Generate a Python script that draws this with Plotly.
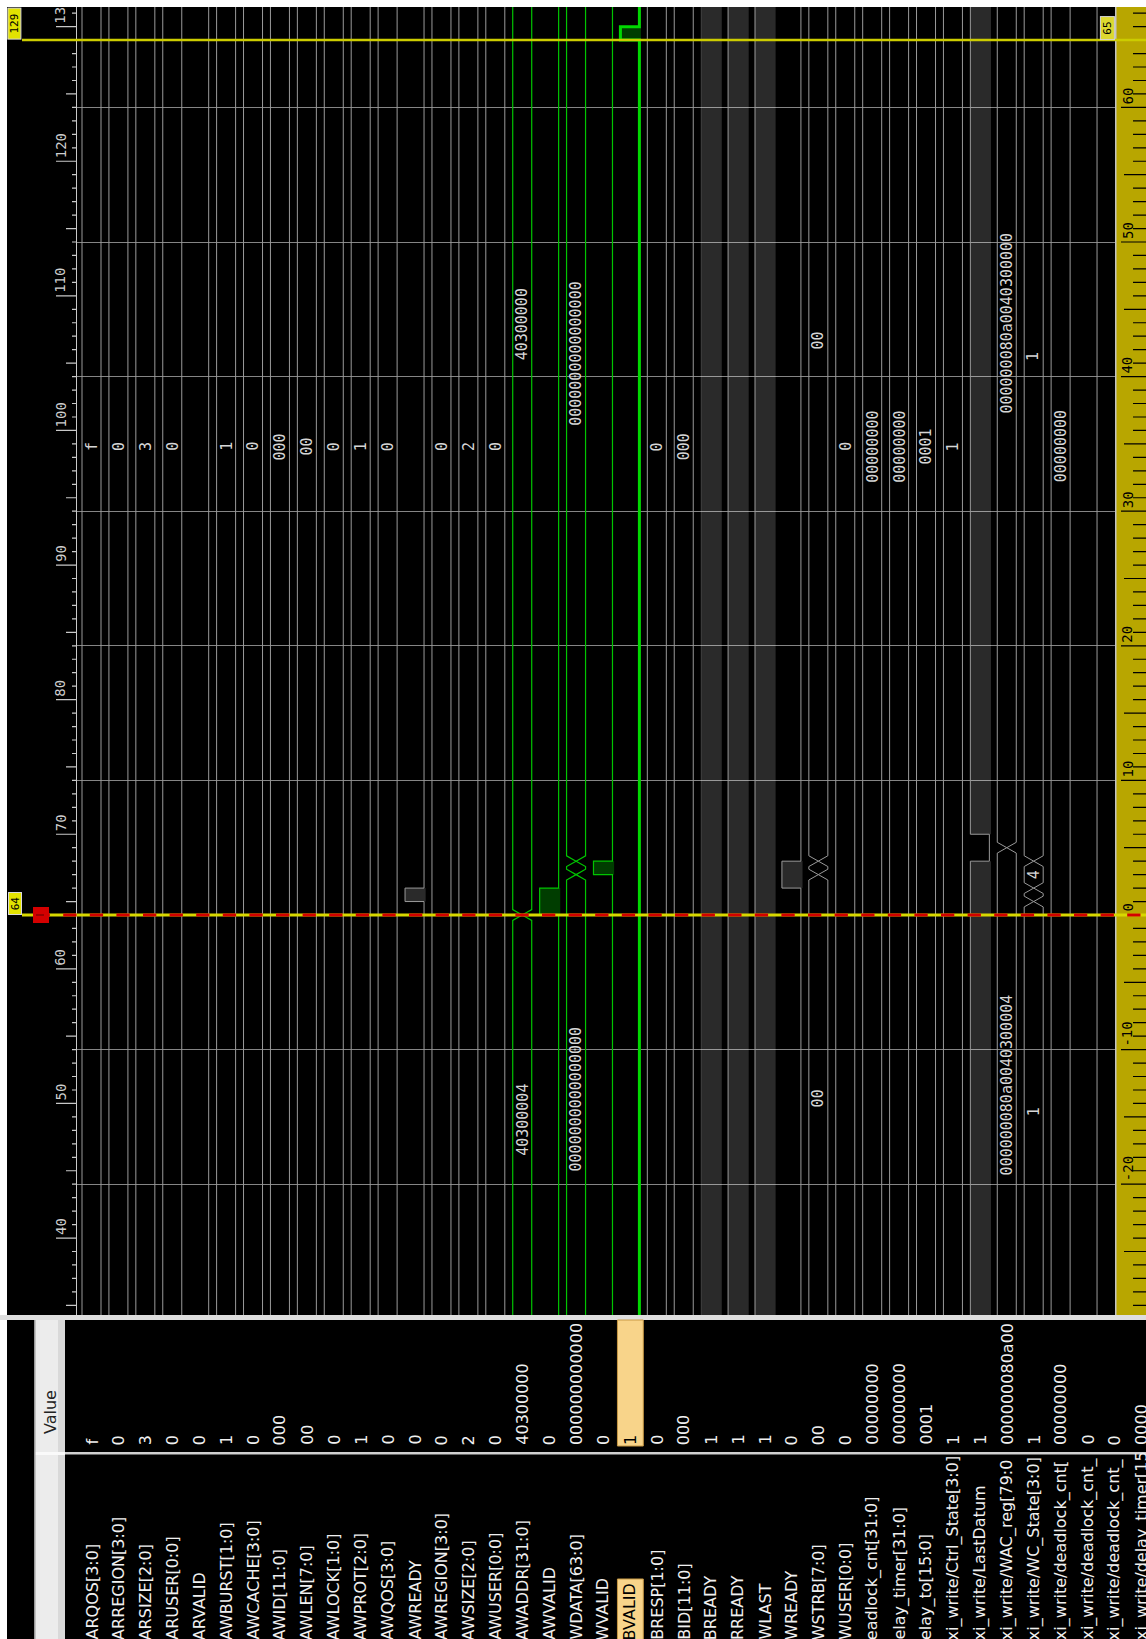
import plotly.graph_objects as go

# ------------------------------------------------------------------ data
signal_names = [
    "ARQOS[3:0]", "ARREGION[3:0]", "ARSIZE[2:0]", "ARUSER[0:0]", "ARVALID",
    "AWBURST[1:0]", "AWCACHE[3:0]", "AWID[11:0]", "AWLEN[7:0]", "AWLOCK[1:0]",
    "AWPROT[2:0]", "AWQOS[3:0]", "AWREADY", "AWREGION[3:0]", "AWSIZE[2:0]",
    "AWUSER[0:0]", "AWADDR[31:0]", "AWVALID", "WDATA[63:0]", "WVALID",
    "BVALID", "BRESP[1:0]", "BID[11:0]", "BREADY", "RREADY",
    "WLAST", "WREADY", "WSTRB[7:0]", "WUSER[0:0]", "eadlock_cnt[31:0]",
    "elay_timer[31:0]", "elay_to[15:0]", "xi_write/Ctrl_State[3:0]", "xi_write/LastDatum",
    "xi_write/WAC_reg[79:0", "xi_write/WC_State[3:0]", "xi_write/deadlock_cnt[",
    "xi_write/deadlock_cnt_", "xi_write/deadlock_cnt_", "xi_write/delay_timer[15",
]
signal_values = [
    "f", "0", "3", "0", "0", "1", "0", "000", "00", "0",
    "1", "0", "0", "0", "2", "0", "40300000", "0", "000000000000", "0",
    "1", "0", "000", "1", "1", "1", "0", "00", "0", "00000000",
    "00000000", "0001", "1", "1", "000000080a00", "1", "00000000", "0", "0", "0000",
]
bit_rows = [4, 12, 17, 19, 20, 23, 24, 25, 26, 33, 37, 38]
green_rows = [16, 17, 18, 19, 20]
selected_row = 20
no_edge_line_rows = [23]

T_BEFORE, T_AFTER = 30, 140          # simulation continues beyond the window
bit_high_intervals = {
    4: [], 12: [(65, 66)], 17: [(64, 66)], 19: [(67, 68)], 20: [(129, 130)],
    23: [(T_BEFORE, T_AFTER)], 24: [(T_BEFORE, T_AFTER)], 25: [(T_BEFORE, T_AFTER)],
    26: [(66, 68)], 33: [(T_BEFORE, 68), (70, T_AFTER)], 37: [], 38: [],
}
bus_transitions = {16: [64], 18: [67, 68], 27: [67, 68], 34: [69], 35: [65, 66, 68]}
bus_segment_labels = {
    16: [("40300004", 48.8), ("40300000", 107.9)],
    18: [("0000000000000000", 50.3), ("0000000000000000", 105.7)],
    27: [("00", 50.4), ("00", 106.7)],
    34: [("000000080a0040300004", 51.4), ("000000080a0040300000", 108.0)],
    35: [("1", 49.4), ("4", 67.0), ("1", 105.5)],
}
STEADY_LABEL_T = 98.8
CURSOR_T = 129
MARKER_T = 64
left_ruler_labels = {40: "40", 50: "50", 60: "60", 70: "70", 80: "80", 90: "90",
                     100: "100", 110: "110", 120: "120", 130: "13"}

# ------------------------------------------------------------------ geometry (px)
W_PX, H_PX = 1146, 1639
WAVE_TOP, WAVE_BOTTOM = 7, 1315
BORDER_L = 7
WAVE_LEFT = 77
RULER_R_LEFT = 1116
ROW0_PX, ROW_PITCH = 82.0, 26.92
BAND = 19.0 / ROW_PITCH
MARK_PX, T_PITCH = 915.0, 13.46
HX = 0.4          # half width of a bus crossing, in time units


def t_at(py):
    return MARKER_T + (MARK_PX - py) / T_PITCH


def row_at(px):
    return (px - ROW0_PX) / ROW_PITCH


def pxx(px):
    return px / W_PX


def pxy(py):
    return 1 - py / H_PX


T_LO, T_HI = t_at(WAVE_BOTTOM), t_at(WAVE_TOP)

GREY = "#9a9a9a"
GREEN = "#00c400"
fig = go.Figure()

# ---------------- fills for high single-bit levels
for i in bit_rows:
    col = "rgba(0,255,0,0.24)" if i in green_rows else "rgba(255,255,255,0.165)"
    for a, b in bit_high_intervals[i]:
        fig.add_trace(go.Scatter(
            x=[i, i + BAND + 0.06, i + BAND + 0.06, i, i], y=[a, a, b, b, a],
            mode="lines", fill="toself", fillcolor=col, line=dict(width=0),
            hoverinfo="skip", showlegend=False))

# ---------------- waveform lines
lines = {"grey": ([], []), "green": ([], []), "sel": ([], []), "band": ([], [])}
for i in range(len(signal_names)):
    key = "green" if i in green_rows else "grey"
    if i == selected_row:
        key = "sel"
    xs, ys = lines[key]
    if i in bit_rows:
        ivs = bit_high_intervals[i]
        lx, ly = [i + BAND], [T_BEFORE]
        for a, b in ivs:
            if a <= T_BEFORE:
                lx, ly = [i], [T_BEFORE]
            else:
                lx += [i + BAND, i]
                ly += [a, a]
            if b >= T_AFTER:
                lx.append(i)
                ly.append(T_AFTER)
            else:
                lx += [i, i + BAND]
                ly += [b, b]
        if ly[-1] < T_AFTER:
            lx.append(lx[-1])
            ly.append(T_AFTER)
        if i in no_edge_line_rows:
            xs2, ys2 = lines["band"]
            xs2 += lx + [None]
            ys2 += ly + [None]
        else:
            xs += lx + [None]
            ys += ly + [None]
    else:
        for edge in (i, i + BAND):
            lx, ly = [edge], [T_BEFORE]
            for T in bus_transitions.get(i, []):
                lx += [edge, i + BAND / 2, edge]
                ly += [T - HX, T, T + HX]
            lx.append(edge)
            ly.append(T_AFTER)
            xs += lx + [None]
            ys += ly + [None]

for key, col, wd in (("band", "rgba(255,255,255,0.165)", 1), ("grey", GREY, 1),
                     ("green", GREEN, 1.2), ("sel", "#00d800", 3)):
    xs, ys = lines[key]
    fig.add_trace(go.Scatter(x=xs, y=ys, mode="lines", line=dict(color=col, width=wd),
                             hoverinfo="skip", showlegend=False))

annotations = []

# ---------------- bus value labels in the waveform
for i in range(len(signal_names)):
    if i in bit_rows or ROW0_PX + ROW_PITCH * i > RULER_R_LEFT:
        continue
    labels = bus_segment_labels.get(i, [(signal_values[i], STEADY_LABEL_T)])
    for txt, t in labels:
        annotations.append(dict(
            x=i + BAND / 2, y=t, xref="x", yref="y", text=txt, showarrow=False,
            textangle=-90, font=dict(family="DejaVu Sans Mono", size=15, color="#d6d6d6"),
            xanchor="center", yanchor="middle", borderpad=0))

# ---------------- names / values panel
for i, (nm, val) in enumerate(zip(signal_names, signal_values)):
    colr = "#000000" if i == selected_row else "#f0f0f0"
    annotations.append(dict(
        x=i + BAND / 2, y=pxy(1446), xref="x", yref="paper", text=val, showarrow=False,
        textangle=-90, font=dict(family="DejaVu Sans", size=16, color=colr),
        xanchor="center", yanchor="bottom", borderpad=0))
    annotations.append(dict(
        x=i + BAND / 2, y=pxy(1641), xref="x", yref="paper", text=nm, showarrow=False,
        textangle=-90, font=dict(family="DejaVu Sans", size=16, color=colr),
        xanchor="center", yanchor="bottom", borderpad=0))

annotations.append(dict(
    x=pxx(50), y=pxy(1412), xref="paper", yref="paper", text="Value", showarrow=False,
    textangle=-90, font=dict(family="DejaVu Sans", size=16, color="#222222"),
    xanchor="center", yanchor="middle"))

# ---------------- rulers
t_first, t_last = int(T_LO) + 1, int(T_HI)
left_short, left_mid, left_long = [], [], []
right_short, right_mid, right_long = [], [], []
for t in range(t_first, t_last + 1):
    (left_long if t % 10 == 0 else left_mid if t % 5 == 0 else left_short).append(t)
    r = t - MARKER_T
    (right_long if r % 10 == 0 else right_mid if r % 5 == 0 else right_short).append(t)


def tick_path(ts, x0, x1):
    return " ".join(f"M{pxx(x0):.5f},{t} L{pxx(x1):.5f},{t}" for t in ts)


for t, txt in left_ruler_labels.items():
    annotations.append(dict(
        x=pxx(60.5), y=t, xref="paper", yref="y", text=txt, showarrow=False,
        textangle=-90, font=dict(family="DejaVu Sans Mono", size=14, color="#cfcfcf"),
        xanchor="center", yanchor="bottom", yshift=2, borderpad=0))
for t in right_long:
    annotations.append(dict(
        x=pxx(1127.5), y=t, xref="paper", yref="y", text=str(t - MARKER_T), showarrow=False,
        textangle=-90, font=dict(family="DejaVu Sans Mono", size=14, color="#000000"),
        xanchor="center", yanchor="bottom", yshift=2, borderpad=0))

# cursor / marker tags
annotations.append(dict(
    x=pxx(14.5), y=CURSOR_T, xref="paper", yref="y", text=str(CURSOR_T), showarrow=False,
    textangle=-90, font=dict(family="DejaVu Sans Mono", size=11, color="#000000"),
    xanchor="center", yanchor="bottom", width=30, height=12, borderpad=0,
    bgcolor="#e2e200", bordercolor="#d8d8d8", borderwidth=1))
annotations.append(dict(
    x=pxx(14.5), y=MARKER_T, xref="paper", yref="y", text=str(MARKER_T), showarrow=False,
    textangle=-90, font=dict(family="DejaVu Sans Mono", size=11, color="#000000"),
    xanchor="center", yanchor="bottom", width=21, height=12, borderpad=0,
    bgcolor="#e2e200", bordercolor="#d8d8d8", borderwidth=1))
annotations.append(dict(
    x=pxx(1107), y=CURSOR_T, xref="paper", yref="y", text=str(CURSOR_T - MARKER_T),
    showarrow=False, textangle=-90,
    font=dict(family="DejaVu Sans Mono", size=11, color="#000000"),
    xanchor="center", yanchor="bottom", width=22, height=13, borderpad=0,
    bgcolor="#dcd830", bordercolor="#d8d8d8", borderwidth=1))

# ---------------- shapes
shapes = []


def rect(x0, y0, x1, y1, color, layer="below"):
    shapes.append(dict(type="rect", xref="paper", yref="paper", x0=pxx(x0), x1=pxx(x1),
                       y0=pxy(y0), y1=pxy(y1), fillcolor=color, line=dict(width=0),
                       layer=layer))


rect(BORDER_L, WAVE_TOP, W_PX, WAVE_BOTTOM, "#000000")
rect(0, WAVE_BOTTOM, W_PX, 1320, "#dedede")
rect(BORDER_L, 1320, W_PX, H_PX + 5, "#000000")
rect(35, 1320, 65, 1452, "#ececec")
rect(58, 1320, 65, 1452, "#d9d9d9")
rect(35, 1455, 65, H_PX + 5, "#ececec")
rect(58, 1455, 65, H_PX + 5, "#d9d9d9")
rect(35, 1452, 65, 1455, "#fafafa")
rect(34, 1320, 35.5, H_PX + 5, "#9a9a9a")
rect(65, 1452, W_PX, 1454.5, "#d0d0d0")

# right ruler (drawn over the rows hidden behind it)
rect(RULER_R_LEFT, WAVE_TOP, W_PX, WAVE_BOTTOM, "#b8a600", layer="above")
rect(RULER_R_LEFT - 1, WAVE_TOP, RULER_R_LEFT + 0.5, WAVE_BOTTOM, "#c4c4c4", layer="above")

for ts, x0, x1, col in ((left_short, 72, WAVE_LEFT, "#c8c8c8"), (left_mid, 66, WAVE_LEFT, "#c8c8c8"),
                        (left_long, 56, WAVE_LEFT, "#c8c8c8"),
                        (right_short, 1133, W_PX, "#000000"), (right_mid, 1124, W_PX, "#000000"),
                        (right_long, 1121, W_PX, "#000000")):
    shapes.append(dict(type="path", xref="paper", yref="y", path=tick_path(ts, x0, x1),
                       line=dict(color=col, width=1.2), layer="above"))

# cursor (solid yellow) and marker (yellow / red dashes)
shapes.append(dict(type="line", xref="paper", yref="y", x0=pxx(22), x1=pxx(W_PX),
                   y0=CURSOR_T, y1=CURSOR_T, line=dict(color="#cccc00", width=2.5), layer="above"))
shapes.append(dict(type="line", xref="paper", yref="y", x0=pxx(22), x1=pxx(W_PX),
                   y0=MARKER_T, y1=MARKER_T, line=dict(color="#d8d800", width=3), layer="above"))
shapes.append(dict(type="line", xref="paper", yref="y", x0=pxx(36.6), x1=pxx(W_PX),
                   y0=MARKER_T, y1=MARKER_T, line=dict(color="#d40000", width=3, dash="13.3px,13.3px"),
                   layer="above"))
shapes.append(dict(type="rect", xref="paper", yref="y", x0=pxx(33), x1=pxx(49),
                   y0=MARKER_T - 8 / T_PITCH, y1=MARKER_T + 8 / T_PITCH,
                   fillcolor="#d40000", line=dict(width=0), layer="above"))
shapes.append(dict(type="line", xref="paper", yref="y", x0=pxx(36), x1=pxx(44),
                   y0=MARKER_T, y1=MARKER_T, line=dict(color="#600000", width=1), layer="above"))

# selected-row highlight in the panel
for y0, y1 in ((1320, 1446), (1579, H_PX + 5)):
    shapes.append(dict(type="rect", xref="x", yref="paper",
                       x0=selected_row - 0.11, x1=selected_row + 0.85,
                       y0=pxy(y1), y1=pxy(y0), fillcolor="#f8d48a",
                       line=dict(color="#c99a45", width=1), layer="above"))

fig.update_layout(
    width=W_PX, height=H_PX, autosize=False,
    margin=dict(l=0, r=0, t=0, b=0, pad=0),
    paper_bgcolor="#ffffff", plot_bgcolor="#000000",
    showlegend=False, hovermode=False,
    xaxis=dict(domain=[pxx(WAVE_LEFT), 1], range=[row_at(WAVE_LEFT), row_at(W_PX)],
               visible=False, fixedrange=True),
    yaxis=dict(domain=[pxy(WAVE_BOTTOM), pxy(WAVE_TOP)], range=[T_LO, T_HI],
               tickmode="linear", tick0=MARKER_T % 10, dtick=10,
               showgrid=True, gridcolor="#858585", gridwidth=1,
               showticklabels=False, ticks="", zeroline=False,
               showline=True, linecolor="#c8c8c8", linewidth=1, fixedrange=True),
    shapes=shapes,
    annotations=annotations,
)

fig.write_html("out.html", include_plotlyjs=True, config={"displayModeBar": False})
